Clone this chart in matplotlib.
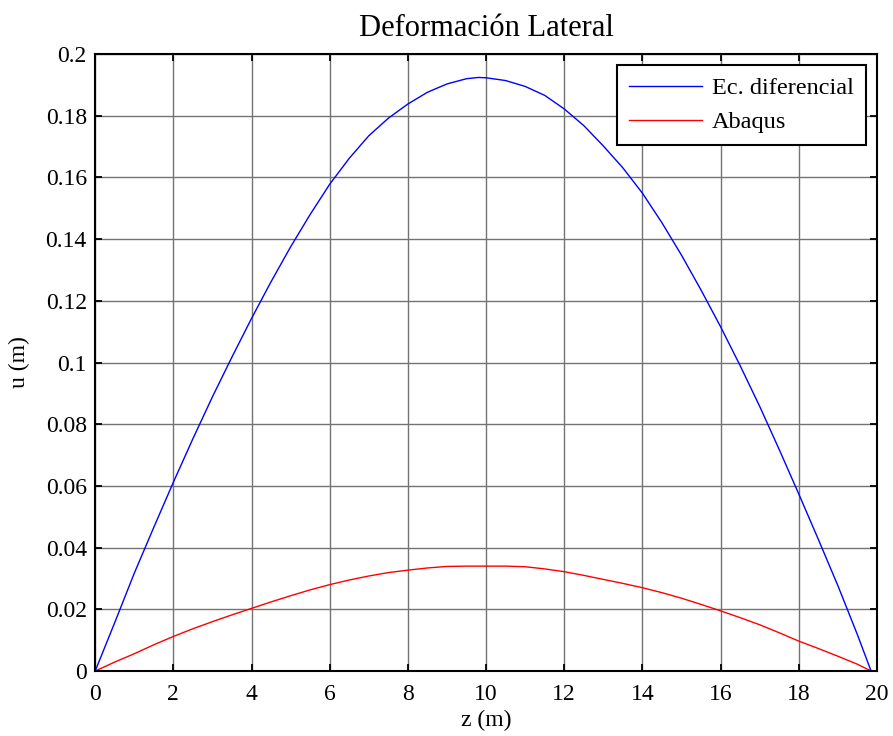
import matplotlib
matplotlib.use("Agg")
import matplotlib.pyplot as plt

# Data
z_ec = [0, 0.5, 1, 1.5, 2, 2.5, 3, 3.5, 4, 4.5, 5, 5.5, 6, 6.5, 7, 7.5, 8, 8.5, 9, 9.5,
        9.8, 10, 10.5, 11, 11.5, 12, 12.5, 13, 13.5, 14, 14.5, 15, 15.5, 16, 16.5, 17,
        17.5, 18, 18.5, 19, 19.5, 19.85]
u_ec = [0, 0.0157, 0.0317, 0.0466, 0.0612, 0.0753, 0.0889, 0.1018, 0.1143, 0.1262,
        0.1375, 0.1480, 0.1578, 0.1662, 0.1735, 0.1792, 0.1838, 0.1876, 0.1903, 0.1920,
        0.1924, 0.1923, 0.1914, 0.1895, 0.1866, 0.1822, 0.1768, 0.1702, 0.1631, 0.1549,
        0.1453, 0.1348, 0.1235, 0.1116, 0.0990, 0.0858, 0.0718, 0.0574, 0.0427, 0.0277,
        0.0118, 0.0]

z_ab = [0, 0.5, 1, 1.5, 2, 2.5, 3, 3.5, 4, 4.5, 5, 5.5, 6, 6.5, 7, 7.5, 8, 8.5, 9, 9.5,
        10, 10.5, 11, 11.5, 12, 12.5, 13, 13.5, 14, 14.5, 15, 15.5, 16, 16.5, 17, 17.5,
        18, 18.5, 19, 19.5, 19.85]
u_ab = [0, 0.0029, 0.0056, 0.0085, 0.0112, 0.0137, 0.0160, 0.0182, 0.0203, 0.0224,
        0.0244, 0.0263, 0.0280, 0.0295, 0.0308, 0.0319, 0.0327, 0.0334, 0.0339, 0.0340,
        0.0340, 0.0340, 0.0338, 0.0331, 0.0322, 0.0310, 0.0297, 0.0284, 0.0270, 0.0254,
        0.0236, 0.0216, 0.0195, 0.0173, 0.0150, 0.0124, 0.0097, 0.0073, 0.0048, 0.0022, 0.0]

x_ticks = [0, 2, 4, 6, 8, 10, 12, 14, 16, 18, 20]
y_ticks = [0, 0.02, 0.04, 0.06, 0.08, 0.1, 0.12, 0.14, 0.16, 0.18, 0.2]
y_tick_labels = ["0", "0.02", "0.04", "0.06", "0.08", "0.1", "0.12", "0.14", "0.16", "0.18", "0.2"]

plt.rcParams['font.family'] = ['Liberation Serif', 'DejaVu Serif']

fig = plt.figure(figsize=(8.93, 7.36), dpi=100)
ax = fig.add_axes([0.1066, 0.0883, 0.8754, 0.8383])

ax.plot(z_ec, u_ec, color=(0, 0, 1), lw=1.0, label="Ec. diferencial")
ax.plot(z_ab, u_ab, color=(1, 0, 0), lw=1.0, label="Abaqus")

ax.set_xlim(0, 20)
ax.set_ylim(0, 0.2)
ax.set_xticks(x_ticks)
ax.set_xticklabels([str(t) for t in x_ticks])
ax.set_yticks(y_ticks)
ax.set_yticklabels(y_tick_labels)

ax.grid(True, color=(0.45, 0.45, 0.45), lw=1.0)
ax.set_axisbelow(True)
ax.tick_params(direction='in', top=True, right=True, length=5, width=1.3,
               labelsize=17, pad=6)
ax.tick_params(axis='x', pad=9)
for s in ax.spines.values():
    s.set_linewidth(1.5)
    s.set_color('black')

ax.set_title("Deformación Lateral", fontsize=22, pad=13)
ax.set_xlabel("z (m)", fontsize=17, labelpad=4)
ax.set_ylabel("u (m)", fontsize=17, labelpad=11)

leg = ax.legend(loc='upper right', fontsize=17.5, fancybox=False, framealpha=1,
                edgecolor='black', borderaxespad=0.45, handlelength=3.0,
                borderpad=0.5, labelspacing=0.5, handletextpad=0.4)
leg.get_frame().set_linewidth(1.5)

fig.savefig("out.png", dpi=100)
